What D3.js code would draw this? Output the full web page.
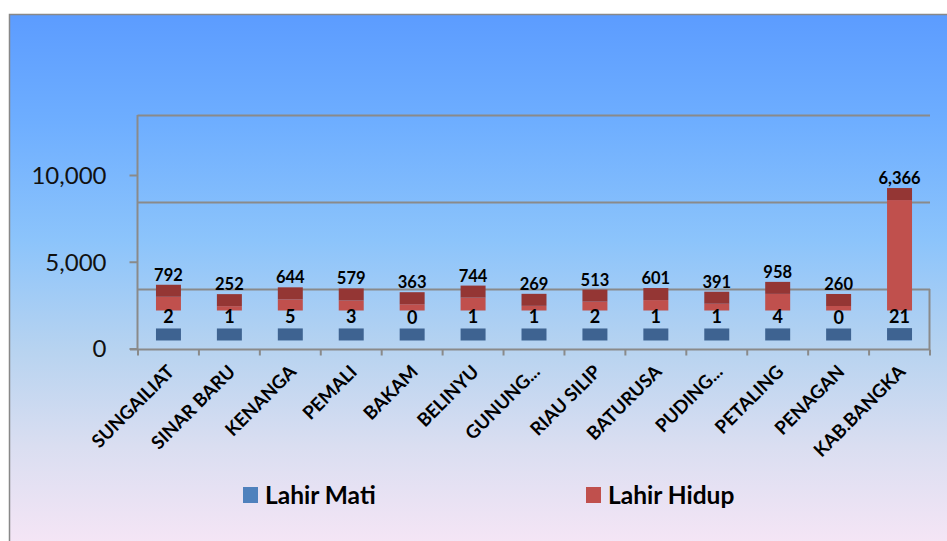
<!DOCTYPE html>
<html>
<head>
    <meta charset="UTF-8">
    <title>Lahir Hidup / Lahir Mati</title>
    <script src="https://d3js.org/d3.v7.min.js"></script>
    <style>
        body { margin: 0; background: #fff; }
        text { font-family: Lato, "Open Sans", sans-serif; }
    </style>
</head>
<body>
    <div id="chart"></div>
    <script>
        // data
        const categories = ['SUNGAILIAT', 'SINAR BARU', 'KENANGA', 'PEMALI', 'BAKAM', 'BELINYU', 'GUNUNG...',
            'RIAU SILIP', 'BATURUSA', 'PUDING...', 'PETALING', 'PENAGAN', 'KAB.BANGKA'];
        const lahirMati = [2, 1, 5, 3, 0, 1, 1, 2, 1, 1, 4, 0, 21];
        const lahirHidup = [792, 252, 644, 579, 363, 744, 269, 513, 601, 391, 958, 260, 6366];
        const yTicks = [0, 5000, 10000];
        const seriesNames = ['Lahir Mati', 'Lahir Hidup'];

        const W = 947, H = 541;
        const svg = d3.select('#chart').append('svg').attr('width', W).attr('height', H);

        // chart background gradient
        const grad = svg.append('defs').append('linearGradient')
            .attr('id', 'bg').attr('x1', 0).attr('y1', 0).attr('x2', 0).attr('y2', 1);
        [['0%', '#5c9cff'], ['20%', '#6eaeff'], ['42%', '#8cc4fb'], ['62%', '#b7d3f0'], ['80%', '#dadef1'], ['100%', '#f8e6f6']]
            .forEach(s => grad.append('stop').attr('offset', s[0]).attr('stop-color', s[1]));

        svg.append('rect').attr('x', 9.5).attr('y', 14.5).attr('width', 960).attr('height', 540)
            .attr('fill', 'url(#bg)').attr('stroke', '#888').attr('stroke-width', 1.5);

        const left = 138, right = 930;
        const x = d3.scaleBand().domain(categories).range([left, right]).paddingInner(0.59).paddingOuter(0.295);
        const y = d3.scaleLinear().domain([0, 10000]).range([348.5, 175]);

        // fake 3d depths
        const backShift = -60, redShift = -38, blueShift = -8, topDepth = 12;
        const gridColor = '#8a8a8a';

        // back wall gridlines
        svg.append('g').selectAll('line').data(yTicks).join('line')
            .attr('x1', left - 0.5).attr('x2', right)
            .attr('y1', d => Math.round(y(d) + backShift) + 0.5)
            .attr('y2', d => Math.round(y(d) + backShift) + 0.5)
            .attr('stroke', gridColor).attr('stroke-width', 2);
        // right edge of floor
        svg.append('line').attr('x1', right - 0.5).attr('x2', right - 0.5)
            .attr('y1', Math.round(y(0) + backShift)).attr('y2', y(0) + 1)
            .attr('stroke', gridColor).attr('stroke-width', 2);
        // left axis line
        svg.append('line').attr('x1', left - 0.5).attr('x2', left - 0.5)
            .attr('y1', Math.round(y(10000) + backShift)).attr('y2', y(0) + 1)
            .attr('stroke', gridColor).attr('stroke-width', 2);

        // y axis
        const yAxis = svg.append('g').attr('transform', `translate(${left - 0.5},0)`)
            .call(d3.axisLeft(y).tickValues(yTicks).tickSize(8).tickPadding(23).tickFormat(d3.format(',')));
        yAxis.select('.domain').remove();
        yAxis.selectAll('line').attr('stroke', gridColor).attr('stroke-width', 2);
        yAxis.selectAll('text').attr('font-size', 24).attr('fill', '#111').attr('dy', '0.35em')
            .style('font-family', 'Lato, sans-serif');

        // bottom axis line and boundary ticks
        const base = Math.round(y(0)) + 0.5;
        svg.append('line').attr('x1', left - 8).attr('x2', right).attr('y1', base).attr('y2', base)
            .attr('stroke', gridColor).attr('stroke-width', 2);
        svg.append('g').selectAll('line').data(d3.range(categories.length + 1)).join('line')
            .attr('x1', i => left + i * x.step()).attr('x2', i => left + i * x.step())
            .attr('y1', base).attr('y2', base + 6)
            .attr('stroke', gridColor).attr('stroke-width', 2);

        // category labels
        svg.append('g').selectAll('text').data(categories).join('text')
            .attr('transform', d => `translate(${x(d) + x.bandwidth() / 2 + 7},${373}) rotate(-45)`)
            .attr('text-anchor', 'end').attr('font-size', 18.5).attr('font-weight', 'bold').attr('fill', '#000')
            .text(d => d);

        const cx = i => x(categories[i]) + x.bandwidth() / 2;

        // Lahir Hidup (back row)
        const red = svg.append('g');
        red.selectAll('rect.front').data(lahirHidup).join('rect').attr('class', 'front')
            .attr('x', (d, i) => x(categories[i])).attr('width', x.bandwidth())
            .attr('y', d => y(d) + redShift).attr('height', d => y(0) - y(d))
            .attr('fill', '#c0504d');
        red.selectAll('rect.top').data(lahirHidup).join('rect').attr('class', 'top')
            .attr('x', (d, i) => x(categories[i])).attr('width', x.bandwidth())
            .attr('y', d => y(d) + redShift - topDepth).attr('height', topDepth)
            .attr('fill', '#943634');
        red.selectAll('text').data(lahirHidup).join('text')
            .attr('x', (d, i) => cx(i)).attr('y', d => y(d) + redShift - topDepth - 4)
            .attr('text-anchor', 'middle').attr('font-size', 16.5).attr('font-weight', 'bold').attr('fill', '#000')
            .text(d => d3.format(',')(d));

        // Lahir Mati (front row)
        const blue = svg.append('g');
        blue.selectAll('rect.front').data(lahirMati).join('rect').attr('class', 'front')
            .attr('x', (d, i) => x(categories[i])).attr('width', x.bandwidth())
            .attr('y', d => y(d) + blueShift).attr('height', d => y(0) - y(d))
            .attr('fill', '#4f81bd');
        blue.selectAll('rect.top').data(lahirMati).join('rect').attr('class', 'top')
            .attr('x', (d, i) => x(categories[i])).attr('width', x.bandwidth())
            .attr('y', d => y(d) + blueShift - topDepth).attr('height', topDepth)
            .attr('fill', '#3e6391');
        blue.selectAll('text').data(lahirMati).join('text')
            .attr('x', (d, i) => cx(i)).attr('y', d => y(d) + blueShift - topDepth - 5)
            .attr('text-anchor', 'middle').attr('font-size', 18).attr('font-weight', 'bold').attr('fill', '#000')
            .text(d => d3.format(',')(d));

        // legend
        const legendX = [243, 586], legendColors = ['#4f81bd', '#c0504d'];
        const legend = svg.append('g').selectAll('g').data(seriesNames).join('g')
            .attr('transform', (d, i) => `translate(${legendX[i]},487)`);
        legend.append('rect').attr('width', 15).attr('height', 16).attr('fill', (d, i) => legendColors[i]);
        legend.append('text').attr('x', 22).attr('y', 17).attr('font-size', 24.5).attr('font-weight', 'bold')
            .attr('fill', '#000').text(d => d);
    </script>
</body>
</html>
